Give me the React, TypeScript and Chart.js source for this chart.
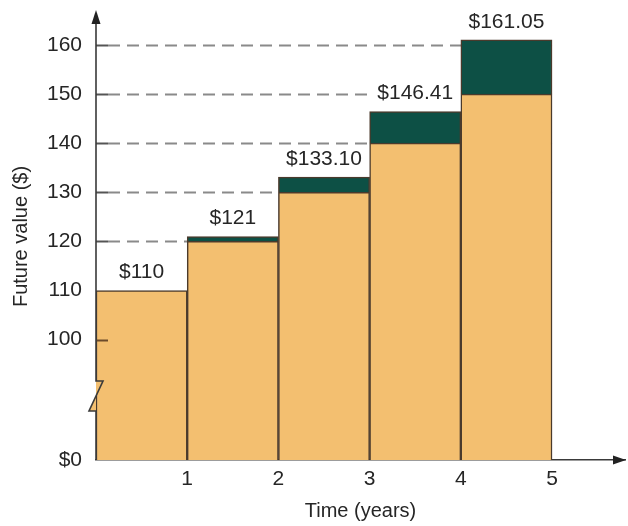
import React, { useEffect, useRef } from "react";
import { Chart, registerables } from "chart.js";

Chart.register(...registerables);

const years = [1, 2, 3, 4, 5];
const simpleValue = [110, 120, 130, 140, 150];
const compoundExtra = [0, 1, 3.1, 6.41, 11.05];
const valueLabels = ["$110", "$121", "$133.10", "$146.41", "$161.05"];
const yTickValues = [100, 110, 120, 130, 140, 150, 160];
const dashedTickValues = [120, 130, 140, 150, 160];
const Y_ZERO = 75.5; // position of "$0" on the broken axis
const Y_MAX = 166.5;
const X_MAX = 5.8;

const FONT = "'Liberation Sans', Arial, Helvetica, sans-serif";
const TAN = "#F3BF70";
const GREEN = "#0D5045";
const BAR_BORDER = "#4a3a2c";
const AXIS = "#3a3a3a";
const TEXT = "#262626";

function labelPos(chart: any, i: number) {
  const x = chart.scales.x;
  const y = chart.scales.y;
  const cx = x.getPixelForValue(years[i] - 0.5);
  const top = y.getPixelForValue(simpleValue[i] + compoundExtra[i]);
  return { cx, cy: top - 19 };
}

const decorPlugin = {
  id: "decor",
  beforeDatasetsDraw(chart: any) {
    const { ctx, chartArea, scales } = chart;
    const x = scales.x;
    const y = scales.y;
    const left = chartArea.left;
    const right = x.getPixelForValue(5);
    ctx.save();
    dashedTickValues.forEach((v) => {
      const py = Math.round(y.getPixelForValue(v)) + 0.5;
      ctx.strokeStyle = "#8a8a8a";
      ctx.lineWidth = 2;
      ctx.setLineDash([12, 7]);
      ctx.beginPath();
      ctx.moveTo(left + 12, py);
      ctx.lineTo(right, py);
      ctx.stroke();
      ctx.setLineDash([]);
      ctx.strokeStyle = "#555";
      ctx.beginPath();
      ctx.moveTo(left, py);
      ctx.lineTo(left + 12, py);
      ctx.stroke();
    });
    // white backing behind value labels (under the bars)
    ctx.font = `21px ${FONT}`;
    years.forEach((_, i) => {
      const { cx, cy } = labelPos(chart, i);
      const w = ctx.measureText(valueLabels[i]).width;
      ctx.fillStyle = "#ffffff";
      ctx.fillRect(cx - w / 2 - 8, cy - 12, w + 16, 24);
    });
    ctx.restore();
  },
  afterDatasetsDraw(chart: any) {
    const { ctx, chartArea, scales } = chart;
    const y = scales.y;
    const left = chartArea.left;
    ctx.save();
    // value labels
    ctx.font = `21px ${FONT}`;
    ctx.textAlign = "center";
    ctx.textBaseline = "middle";
    years.forEach((_, i) => {
      const { cx, cy } = labelPos(chart, i);
      ctx.fillStyle = TEXT;
      ctx.fillText(valueLabels[i], cx, cy + 1);
    });
    // tick at 100 over the bar
    const p100 = Math.round(y.getPixelForValue(100)) + 0.5;
    ctx.strokeStyle = "#6b4a2a";
    ctx.lineWidth = 2;
    ctx.beginPath();
    ctx.moveTo(left, p100);
    ctx.lineTo(left + 12, p100);
    ctx.stroke();
    // axis break
    const bTop = 381;
    const bBot = 411;
    ctx.fillStyle = TAN;
    ctx.beginPath();
    ctx.moveTo(left, bTop);
    ctx.lineTo(left + 7, bTop);
    ctx.lineTo(left - 7, bBot);
    ctx.lineTo(left, bBot);
    ctx.closePath();
    ctx.fill();
    ctx.strokeStyle = AXIS;
    ctx.lineWidth = 1.6;
    ctx.beginPath();
    ctx.moveTo(left, chartArea.top + 6);
    ctx.lineTo(left, bTop);
    ctx.lineTo(left + 7, bTop);
    ctx.lineTo(left - 7, bBot);
    ctx.lineTo(left, bBot);
    ctx.lineTo(left, chartArea.bottom);
    ctx.stroke();
    // arrows
    ctx.fillStyle = "#222";
    ctx.beginPath();
    ctx.moveTo(left, chartArea.top - 3);
    ctx.lineTo(left - 4.5, chartArea.top + 11);
    ctx.lineTo(left + 4.5, chartArea.top + 11);
    ctx.closePath();
    ctx.fill();
    const by = chartArea.bottom;
    ctx.beginPath();
    ctx.moveTo(chartArea.right + 1, by);
    ctx.lineTo(chartArea.right - 12, by - 4.5);
    ctx.lineTo(chartArea.right - 12, by + 4.5);
    ctx.closePath();
    ctx.fill();
    ctx.restore();
  },
};

export default function App() {
  const ref = useRef<HTMLCanvasElement | null>(null);
  useEffect(() => {
    if (!ref.current) return;
    const chart = new Chart(ref.current, {
      type: "bar",
      data: {
        datasets: [
          {
            label: "Simple",
            data: years.map((yr, i) => ({ x: yr - 0.5, y: simpleValue[i] })),
            backgroundColor: TAN,
            borderColor: BAR_BORDER,
            borderWidth: 1.5,
            barPercentage: 1,
            categoryPercentage: 1,
          },
          {
            label: "Compound",
            data: years.map((yr, i) => ({ x: yr - 0.5, y: compoundExtra[i] > 0 ? compoundExtra[i] : null })),
            backgroundColor: GREEN,
            borderColor: BAR_BORDER,
            borderWidth: 1.5,
            barPercentage: 1,
            categoryPercentage: 1,
          },
        ],
      } as any,
      options: {
        animation: false,
        responsive: false,
        layout: { autoPadding: false, padding: { top: 13, right: 3, left: 0, bottom: 0 } },
        plugins: { legend: { display: false }, tooltip: { enabled: false } },
        scales: {
          x: {
            type: "linear",
            stacked: true,
            offset: false,
            min: 0,
            max: X_MAX,
            grid: { display: false, drawTicks: false, offset: false },
            border: { display: true, color: AXIS, width: 1.6 },
            afterBuildTicks: (s: any) => {
              s.ticks = years.map((v) => ({ value: v }));
            },
            afterFit: (s: any) => {
              s.height = 66;
              s.paddingLeft = 0;
              s.paddingRight = 0;
            },
            ticks: {
              font: { family: FONT, size: 21 },
              color: TEXT,
              padding: 7,
              autoSkip: false,
              maxRotation: 0,
              callback: (v: any) => String(v),
            },
            title: {
              display: true,
              text: "Time (years)",
              font: { family: FONT, size: 20 },
              color: TEXT,
              padding: { top: 0, bottom: 3 },
            },
          },
          y: {
            type: "linear",
            stacked: true,
            min: Y_ZERO,
            max: Y_MAX,
            grid: { display: false, drawTicks: false },
            border: { display: false },
            afterBuildTicks: (s: any) => {
              s.ticks = [Y_ZERO, ...yTickValues].map((v) => ({ value: v }));
            },
            afterFit: (s: any) => {
              s.width = 96;
              s.paddingTop = 0;
              s.paddingBottom = 0;
            },
            ticks: {
              font: { family: FONT, size: 21 },
              color: TEXT,
              padding: 14,
              autoSkip: false,
              callback: (v: any) => (v === Y_ZERO ? "$0" : String(v)),
            },
            title: {
              display: true,
              text: "Future value ($)",
              font: { family: FONT, size: 20 },
              color: TEXT,
              padding: { top: 9, bottom: 0 },
            },
          },
        },
      } as any,
      plugins: [decorPlugin],
    });
    return () => chart.destroy();
  }, []);
  return (
    <div style={{ position: "fixed", left: 0, top: 0, width: 628, height: 526, background: "#fff" }}>
      <canvas ref={ref} width={628} height={526} style={{ display: "block" }} />
    </div>
  );
}
